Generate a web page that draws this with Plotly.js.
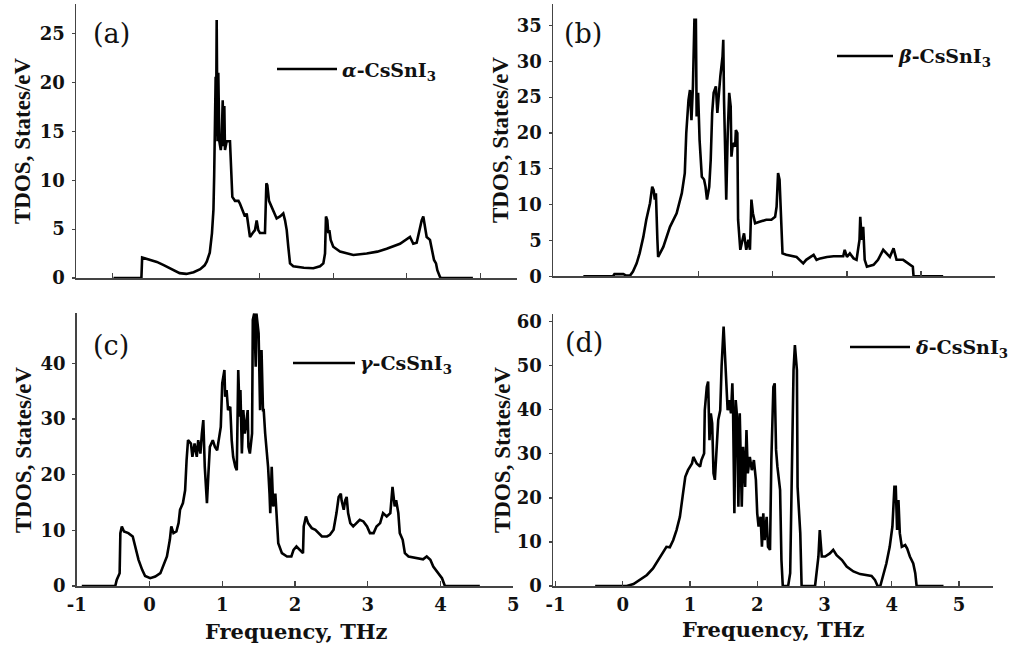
<!DOCTYPE html>
<html>
<head>
<meta charset="utf-8">
<script src="https://cdn.plot.ly/plotly-3.0.1.min.js"></script>
<style>html,body{margin:0;padding:0;background:#fff;}#chart{width:1017px;height:648px;}</style>
</head>
<body>
<div id="chart"></div>
<script>
// ---------- data (frequency in THz, TDOS in states/eV) ----------
const panelLabels = ["(a)", "(b)", "(c)", "(d)"];
const seriesNames = ["<i>α</i>-CsSnI<sub>3</sub>", "<i>β</i>-CsSnI<sub>3</sub>", "<i>γ</i>-CsSnI<sub>3</sub>", "<i>δ</i>-CsSnI<sub>3</sub>"];
const xTitle = "Frequency, THz";
const yTitle = "TDOS, States/eV";

const freqA = [-0.49,-0.11,-0.10,0.00,0.10,0.20,0.28,0.35,0.41,0.50,0.60,0.69,0.75,0.78,0.82,0.85,0.87,0.88,0.89,0.90,0.905,0.914,0.925,0.936,0.95,0.97,0.982,0.996,1.008,1.018,1.027,1.05,1.095,1.109,1.127,1.163,1.21,1.231,1.254,1.276,1.299,1.322,1.344,1.367,1.404,1.435,1.458,1.48,1.503,1.571,1.59,1.603,1.626,1.662,1.707,1.73,1.776,1.82,1.844,1.867,1.888,1.912,1.956,2.10,2.229,2.32,2.365,2.388,2.401,2.419,2.433,2.447,2.465,2.50,2.592,2.773,2.955,3.10,3.227,3.408,3.544,3.589,3.635,3.671,3.703,3.725,3.748,3.771,3.816,3.839,3.871,3.898,3.916,3.952,3.97,4.40];
const tdosA = [0,0,2.1,1.9,1.65,1.3,1.0,0.7,0.5,0.42,0.6,0.9,1.3,1.7,2.6,4.6,7.0,10.5,14.0,20.6,14.5,26.4,14.0,21.0,14.0,13.1,14.2,18.2,13.5,17.6,13.1,14.0,14.0,10.7,8.3,7.9,7.9,7.6,7.1,6.6,6.3,6.6,5.6,4.2,4.6,4.9,5.9,4.9,4.6,4.6,9.7,9.5,7.9,7.3,6.6,6.1,6.3,6.6,5.9,4.9,3.2,1.5,1.2,1.05,1.0,1.2,1.5,2.5,6.3,5.9,4.6,4.9,3.9,3.2,2.7,2.36,2.5,2.7,3.0,3.5,4.2,3.5,3.6,4.9,5.9,6.3,5.3,4.2,3.9,2.9,1.84,1.5,0.8,0.1,0,0];

const freqB = [-0.56,-0.16,-0.14,-0.02,0.02,0.07,0.11,0.16,0.20,0.25,0.29,0.34,0.37,0.39,0.405,0.42,0.44,0.45,0.52,0.61,0.70,0.77,0.81,0.83,0.86,0.88,0.90,0.92,0.94,0.96,0.97,0.99,1.01,1.04,1.07,1.09,1.11,1.14,1.16,1.18,1.20,1.23,1.25,1.27,1.29,1.32,1.33,1.34,1.36,1.37,1.39,1.41,1.43,1.44,1.46,1.49,1.50,1.52,1.53,1.55,1.56,1.59,1.61,1.64,1.67,1.69,1.71,1.73,1.76,1.82,1.91,1.98,2.03,2.05,2.07,2.09,2.11,2.13,2.18,2.27,2.32,2.36,2.41,2.45,2.50,2.55,2.59,2.64,2.73,2.82,2.95,2.97,3.00,3.04,3.09,3.13,3.17,3.18,3.20,3.22,3.24,3.27,3.36,3.42,3.49,3.54,3.58,3.63,3.67,3.76,3.83,3.89,3.90,4.30];
const tdosB = [0,0,0.3,0.3,0.1,0.1,0.65,1.8,3.2,5.5,7.9,10.2,12.5,12.0,10.7,11.6,5.1,2.7,4.1,6.9,8.8,11.6,14.4,20.0,24.6,26.0,21.8,26.5,35.8,35.8,22.3,25.6,19.0,13.9,13.5,12.5,10.7,12.5,16.2,22.8,25.6,26.5,22.8,26.0,27.9,30.7,33.0,24.6,13.9,10.7,20.0,25.6,23.7,16.7,18.6,18.1,20.4,20.0,7.9,5.1,3.7,5.1,6.0,3.7,5.1,3.7,10.7,8.8,7.4,7.6,7.9,7.9,8.3,9.7,14.4,13.5,8.8,3.2,3.0,2.8,2.7,2.3,1.8,2.3,2.7,3.0,2.3,2.5,2.7,2.8,2.8,3.7,2.7,3.2,2.5,2.3,5.1,8.3,5.1,6.9,2.3,1.35,1.6,2.3,3.7,3.2,2.7,3.9,2.3,2.3,1.8,1.35,0,0];

const freqC = [-0.93,-0.47,-0.45,-0.41,-0.40,-0.38,-0.35,-0.29,-0.23,-0.20,-0.15,-0.10,-0.06,0.01,0.08,0.15,0.19,0.24,0.28,0.30,0.33,0.37,0.40,0.42,0.46,0.49,0.51,0.53,0.57,0.59,0.62,0.65,0.67,0.70,0.72,0.74,0.76,0.79,0.81,0.83,0.87,0.90,0.93,0.96,0.98,1.00,1.03,1.04,1.06,1.08,1.11,1.13,1.15,1.18,1.20,1.22,1.24,1.25,1.27,1.29,1.31,1.33,1.35,1.36,1.38,1.41,1.42,1.44,1.46,1.47,1.50,1.52,1.54,1.56,1.57,1.59,1.61,1.63,1.65,1.66,1.68,1.70,1.73,1.75,1.77,1.82,1.89,1.95,1.98,2.02,2.07,2.11,2.12,2.15,2.18,2.23,2.28,2.32,2.37,2.44,2.48,2.53,2.55,2.57,2.60,2.63,2.64,2.67,2.69,2.71,2.73,2.76,2.80,2.85,2.89,2.94,2.99,3.03,3.08,3.12,3.17,3.21,3.26,3.31,3.34,3.37,3.39,3.42,3.44,3.48,3.51,3.56,3.67,3.76,3.81,3.86,3.90,3.95,4.02,4.06,4.54];
const tdosC = [0,0,1.1,2.3,9.5,10.7,9.8,9.5,8.9,7.1,4.7,2.9,1.8,1.4,1.7,2.3,3.5,5.3,8.3,10.7,9.5,9.8,11.3,13.7,14.9,17.2,22.6,26.2,25.6,23.2,25.6,23.2,26.2,23.8,27.4,29.8,21.4,14.9,20.2,25.0,26.2,25.0,24.4,27.4,28.6,36.4,38.8,34.0,35.2,31.6,32.2,26.2,23.2,21.4,20.8,38.8,30.4,35.2,23.8,31.6,27.4,29.2,31.6,25.0,23.8,27.4,47.8,49.0,39.4,49.0,45.4,31.6,42.4,31.6,31.6,27.4,24.4,21.4,16.6,13.1,21.4,14.3,16.6,10.7,7.7,5.9,5.3,5.3,6.5,7.1,6.5,5.9,10.7,12.5,11.3,10.4,10.1,9.5,8.9,8.9,9.2,10.1,11.3,13.1,16.0,16.6,15.4,13.7,15.4,16.0,13.1,11.3,10.7,11.3,11.9,11.6,10.7,9.5,9.5,10.7,11.3,13.1,12.5,13.1,17.8,14.3,15.4,13.1,9.5,8.3,5.9,5.3,5.0,4.8,5.3,4.7,3.5,2.6,1.4,0,0];

const freqD = [-0.41,0.06,0.16,0.26,0.36,0.45,0.53,0.60,0.65,0.70,0.75,0.80,0.85,0.89,0.93,0.97,1.03,1.05,1.10,1.15,1.17,1.21,1.22,1.25,1.27,1.29,1.31,1.33,1.35,1.37,1.40,1.42,1.45,1.47,1.50,1.52,1.54,1.56,1.58,1.61,1.63,1.64,1.66,1.68,1.70,1.72,1.74,1.77,1.79,1.82,1.84,1.86,1.89,1.92,1.95,1.98,2.00,2.02,2.05,2.07,2.09,2.11,2.14,2.16,2.19,2.21,2.24,2.26,2.28,2.30,2.34,2.36,2.38,2.46,2.49,2.51,2.54,2.56,2.59,2.60,2.64,2.66,2.86,2.91,2.93,2.96,3.01,3.08,3.13,3.18,3.26,3.33,3.43,3.53,3.63,3.70,3.75,3.79,3.83,3.87,3.92,3.97,4.01,4.04,4.06,4.08,4.10,4.12,4.15,4.20,4.23,4.27,4.32,4.35,4.37,4.77];
const tdosD = [0,0,0.45,1.4,2.5,4.0,5.9,7.8,8.9,8.8,10.4,12.7,15.7,20.3,24.8,26.3,27.8,29.3,27.8,27.1,28.6,30.1,39.9,45.2,46.4,33.1,39.2,36.9,25.6,24.1,31.6,37.7,39.9,49.8,58.9,51.3,43.7,39.9,42.2,39.2,46.0,40.7,16.5,42.2,38.4,18.0,39.2,18.0,31.6,22.5,35.4,25.6,29.3,26.3,28.6,24.1,16.5,13.5,15.7,8.9,16.5,10.4,15.7,8.9,8.2,28.6,45.2,46.0,30.9,27.1,21.8,5.9,0,0,2.9,19.5,49.0,54.7,49.0,22.5,12.0,0,0,6.7,12.7,6.7,6.7,7.4,8.2,7.0,5.9,4.4,3.3,2.7,2.4,2.3,1.4,0,0,2.1,5.1,8.9,13.5,22.5,22.5,12.7,19.5,12.0,8.9,9.3,8.5,6.7,5.1,2.9,0,0];

const yTicksA = [0,5,10,15,20,25];
const yTicksB = [0,5,10,15,20,25,30,35];
const yTicksC = [0,10,20,30,40];
const yTicksD = [0,10,20,30,40,50,60];
const xTicksBottom = [-1,0,1,2,3,4,5];

// ---------- drawing ----------
const W = 1017, H = 648;
const px = v => v / W;
const py = v => 1 - v / H;

const freqs = [freqA, freqB, freqC, freqD];
const tdoss = [tdosA, tdosB, tdosC, tdosD];
const axIds = ["", "2", "3", "4"];

const traces = freqs.map((f, i) => ({
  x: f, y: tdoss[i], type: "scatter", mode: "lines",
  xaxis: "x" + axIds[i], yaxis: "y" + axIds[i],
  line: {color: "#000", width: 2.6}, showlegend: false, hoverinfo: "skip"
}));

const tickFont = {family: "DejaVu Serif", size: 18, color: "#111", weight: "bold"};
const axisLine = {showline: true, linecolor: "#444", linewidth: 1.5, showgrid: false, zeroline: false, tickcolor: "#444", fixedrange: true};

function xAx(domain, range, tickvals, labels, yId) {
  return Object.assign({}, axisLine, {
    domain: domain, range: range, anchor: yId,
    tickmode: "array", tickvals: tickvals, ticktext: tickvals.map(String),
    ticks: "inside", ticklen: 5, tickwidth: 1.2,
    showticklabels: labels, tickfont: tickFont, ticklabelstandoff: 2
  });
}
function yAx(domain, range, tickvals, xId) {
  return Object.assign({}, axisLine, {
    domain: domain, range: range, anchor: xId,
    tickmode: "array", tickvals: tickvals,
    ticks: "outside", ticklen: 3, tickwidth: 1.2,
    tickfont: tickFont, ticklabelstandoff: 3
  });
}

const layout = {
  width: W, height: H,
  margin: {l: 0, r: 0, t: 0, b: 0},
  paper_bgcolor: "#fff", plot_bgcolor: "rgba(0,0,0,0)",
  showlegend: false,
  xaxis:  xAx([px(76), px(517)],  [-1, 5],        [-0.5, 1.5, 2.5, 3.5, 4.5], false, "y"),
  yaxis:  yAx([py(278), py(3.5)], [0, 28.1],      yTicksA, "x"),
  xaxis2: xAx([px(553), px(995)], [-0.97, 5.0],   [1, 2, 3, 4, 5], false, "y2"),
  yaxis2: yAx([py(276.3), py(4)], [0, 38],        yTicksB, "x2"),
  xaxis3: xAx([px(76.7), px(513.3)], [-1, 5],     xTicksBottom, true, "y3"),
  yaxis3: yAx([py(586), py(313.3)], [0, 49],      yTicksC, "x3"),
  xaxis4: xAx([px(553), px(993)], [-1.037, 5.506], xTicksBottom, true, "y4"),
  yaxis4: yAx([py(586), py(314)], [0, 61.75],     yTicksD, "x4"),
  annotations: [],
  shapes: []
};

// panel labels
const labelPos = [[111, 33], [583, 33], [111, 345], [584, 342]];
panelLabels.forEach((t, i) => layout.annotations.push({
  text: t, xref: "paper", yref: "paper", x: px(labelPos[i][0]), y: py(labelPos[i][1]),
  xanchor: "center", yanchor: "middle", showarrow: false,
  font: {family: "DejaVu Serif", size: 27, color: "#111"}
}));

// legend samples + names
const legLine = [[277, 337, 69], [837, 893, 56], [293, 355, 363], [850, 910, 347]];
seriesNames.forEach((t, i) => {
  const L = legLine[i];
  layout.shapes.push({type: "line", xref: "paper", yref: "paper",
    x0: px(L[0]), x1: px(L[1]), y0: py(L[2]), y1: py(L[2]), line: {color: "#000", width: 2.5}});
  layout.annotations.push({
    text: "<b>" + t + "</b>", xref: "paper", yref: "paper", x: px(L[1] + 3), y: py(L[2] + 2),
    xanchor: "left", yanchor: "middle", showarrow: false,
    font: {family: "DejaVu Serif", size: 19, color: "#111"}
  });
});

// y axis titles
const yTitlePos = [[23, 141], [501, 140], [23, 450], [502, 450]];
yTitlePos.forEach(p => layout.annotations.push({
  text: "<b>" + yTitle + "</b>", xref: "paper", yref: "paper", x: px(p[0]), y: py(p[1]),
  xanchor: "center", yanchor: "middle", textangle: -90, showarrow: false,
  font: {family: "Liberation Serif", size: 23, color: "#111"}
}));

// x axis titles
const xTitlePos = [[296, 631], [773, 629]];
xTitlePos.forEach(p => layout.annotations.push({
  text: "<b>" + xTitle + "</b>", xref: "paper", yref: "paper", x: px(p[0]), y: py(p[1]),
  xanchor: "center", yanchor: "middle", showarrow: false,
  font: {family: "DejaVu Serif", size: 21, color: "#111"}
}));

Plotly.newPlot("chart", traces, layout, {staticPlot: true, displayModeBar: false});
</script>
</body>
</html>
